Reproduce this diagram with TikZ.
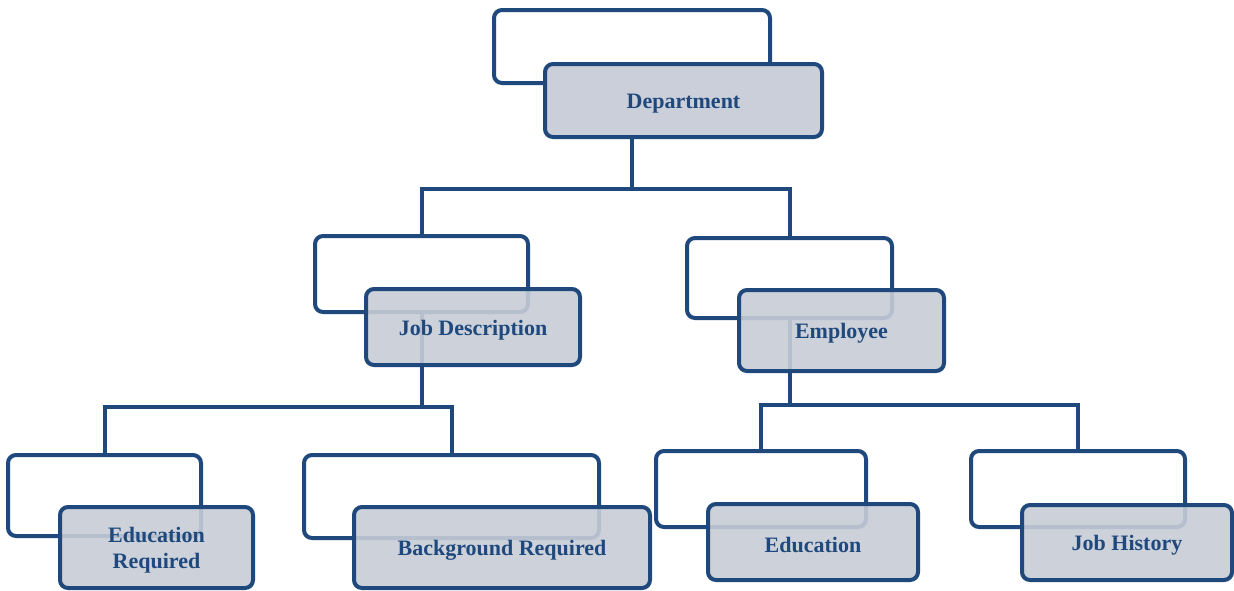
\documentclass[tikz,border=0pt]{standalone}
\usepackage{fontspec}
\setmainfont{Liberation Serif}
\definecolor{navy}{RGB}{31,73,125}
\definecolor{frontgray}{RGB}{199,204,214}
\definecolor{deptgray}{RGB}{203,207,217}
\tikzset{
  backbox/.style={draw=navy, line width=4pt, rounded corners=8pt, fill=white, inner sep=0pt},
  frontbox/.style={draw=navy, line width=4pt, rounded corners=8pt, fill=frontgray, fill opacity=0.9, inner sep=0pt},
  ftext/.style={text=navy, align=center, inner sep=0pt, font=\fontsize{22}{26}\selectfont\bfseries, yshift=-3pt},
  link/.style={draw=navy, line width=4pt},
}
\begin{document}
\begin{tikzpicture}[x=1pt,y=-1pt]
\useasboundingbox (0,0) rectangle (1234,590);
% back boxes
\node[backbox, minimum width=276pt, minimum height=73pt] (depB) at (632,46.5) {};
\node[backbox, minimum width=213pt, minimum height=76pt] (jdB) at (421.5,274) {};
\node[backbox, minimum width=205pt, minimum height=80pt] (empB) at (789.5,278) {};
\node[backbox, minimum width=193pt, minimum height=81pt] (erB) at (104.5,495.5) {};
\node[backbox, minimum width=295pt, minimum height=83pt] (brB) at (451.5,496.5) {};
\node[backbox, minimum width=210pt, minimum height=76pt] (edB) at (761,489) {};
\node[backbox, minimum width=214pt, minimum height=76pt] (jhB) at (1078,489) {};
% bus coordinates
\coordinate (bus1) at (632,189);
\coordinate (bus2) at (421.5,407);
\coordinate (bus3) at (789.5,405);
% connectors
\draw[link] (depB.south) -- (bus1) -| (jdB.north);
\draw[link] (bus1) -| (empB.north);
\draw[link] (jdB.south) -- (bus2) -| (erB.north);
\draw[link] (bus2) -| (brB.north);
\draw[link] (empB.south) -- (bus3) -| (edB.north);
\draw[link] (bus3) -| (jhB.north);
% front boxes
\node[frontbox, fill=deptgray, fill opacity=1, minimum width=277pt, minimum height=73pt, label={[ftext]center:Department}] (dep) at (683.5,100.5) {};
\node[frontbox, minimum width=214pt, minimum height=76pt, label={[ftext]center:Job Description}] (jd) at (473,327) {};
\node[frontbox, minimum width=205pt, minimum height=81pt, label={[ftext]center:Employee}] (emp) at (841.5,330.5) {};
\node[frontbox, minimum width=193pt, minimum height=81pt, label={[ftext]center:{Education\\Required}}] (er) at (156.5,547.5) {};
\node[frontbox, minimum width=296pt, minimum height=81pt, label={[ftext]center:Background Required}] (br) at (502,547.5) {};
\node[frontbox, minimum width=210pt, minimum height=76pt, label={[ftext]center:Education}] (ed) at (813,542) {};
\node[frontbox, minimum width=210pt, minimum height=75pt, label={[ftext]center:Job History}] (jh) at (1127,542.5) {};
\end{tikzpicture}
\end{document}
